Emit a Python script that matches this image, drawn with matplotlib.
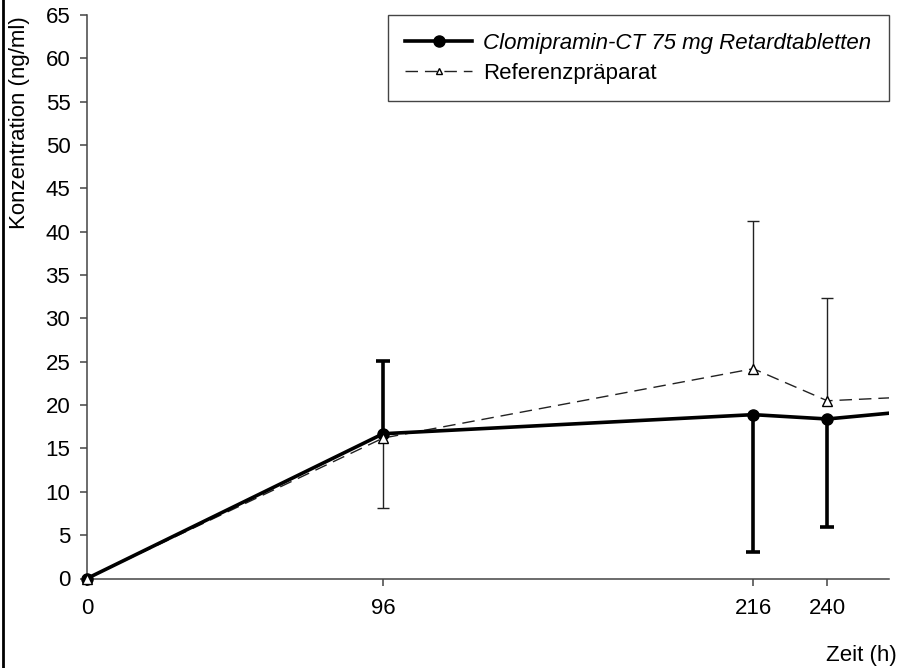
import numpy as np
import matplotlib.pyplot as plt
from matplotlib.lines import Line2D

plt.rcParams['font.family'] = ['Liberation Sans', 'DejaVu Sans']
plt.rcParams['font.size'] = 16

# time points (h); the last one lies beyond the visible axis
zeit = [0, 96, 216, 240, 264]

# Clomipramin-CT 75 mg Retardtabletten
test_mean = [0, 16.7, 18.9, 18.4, 19.2]
test_sd_up = [0, 8.4, 0, 0, 0]
test_sd_down = [0, 0, 15.9, 12.5, 0]

# Referenzpräparat
ref_mean = [0, 16.2, 24.2, 20.5, 20.9]
ref_sd_up = [0, 0, 17.0, 11.9, 0]
ref_sd_down = [0, 8.1, 0, 0, 0]

x_ticks = [0, 96, 216, 240]
y_ticks = np.arange(0, 70, 5)

fig = plt.figure(figsize=(9.17, 6.68), dpi=100)
ax = fig.add_axes([87 / 917, 89.5 / 668, (889 - 87) / 917, (578.5 - 15) / 668])

t = np.array(zeit, float)
vis = t <= 260  # markers only for points inside the axis


def one_sided_bars(x, y, up, down, lw, cap, color):
    x = np.asarray(x, float)
    y = np.asarray(y, float)
    up = np.asarray(up, float)
    down = np.asarray(down, float)
    for err, sign in ((up, 1), (down, -1)):
        m = err > 0
        if not m.any():
            continue
        ends = y[m] + sign * err[m]
        ax.vlines(x[m], y[m], ends, color=color, lw=lw, zorder=2)
        ax.plot(x[m], ends, ls='none', marker='_', ms=cap, mew=lw,
                color=color, zorder=2)


one_sided_bars(t, ref_mean, ref_sd_up, ref_sd_down, 1.0, 9, '#222222')
one_sided_bars(t, test_mean, test_sd_up, test_sd_down, 2.6, 10, 'black')

ax.plot(t, ref_mean, color='#222222', lw=1.0, dashes=(9, 5), zorder=3)
ax.plot(t, test_mean, color='black', lw=2.6, zorder=4)
ax.plot(t[vis], np.array(test_mean)[vis], ls='none', marker='o', ms=8,
        color='black', zorder=5, clip_on=False)
ax.plot(t[vis], np.array(ref_mean)[vis], ls='none', marker='^', ms=6.5,
        mfc='white', mec='black', mew=1.0, zorder=6, clip_on=False)

ax.set_xlim(0, 260)
ax.set_ylim(0, 65)
ax.set_xticks(x_ticks)
ax.set_xticklabels([str(v) for v in x_ticks])
ax.set_yticks(y_ticks)

for s in ('top', 'right'):
    ax.spines[s].set_visible(False)
for s in ('left', 'bottom'):
    ax.spines[s].set_color('#444444')
    ax.spines[s].set_linewidth(1.1)
ax.tick_params(axis='both', direction='out', length=5, width=1.1,
               color='#444444', labelsize=16)
ax.tick_params(axis='y', pad=7)
ax.tick_params(axis='x', pad=9)

fig.text(20 / 917, 1 - 16 / 668, 'Konzentration (ng/ml)', rotation=90,
         ha='center', va='top', fontsize=16)
fig.text(897 / 917, 1 - 666 / 668, 'Zeit (h)', ha='right', va='bottom',
         fontsize=16)

# border line on the left edge
fig.add_artist(Line2D([3 / 917, 3 / 917], [0, 1], color='black', lw=2,
                      transform=fig.transFigure))

handles = [
    Line2D([], [], color='black', lw=2.6, marker='o', ms=8),
    Line2D([], [], color='#222222', lw=1.0, dashes=(9, 5), marker='^',
           ms=4.5, mfc='white', mec='black', mew=1.0),
]
leg = fig.legend(handles, ['Clomipramin-CT 75 mg Retardtabletten',
                           'Referenzpräparat'],
                 loc='upper right', bbox_to_anchor=(889 / 917, 1 - 15 / 668),
                 frameon=True, fancybox=False, framealpha=1,
                 edgecolor='#444444', fontsize=16, handlelength=3.0,
                 handletextpad=0.5, labelspacing=0.4, borderpad=0.8,
                 borderaxespad=0)
leg.get_frame().set_linewidth(1.0)
leg.get_texts()[0].set_fontstyle('italic')

fig.savefig('out.png', dpi=100)
